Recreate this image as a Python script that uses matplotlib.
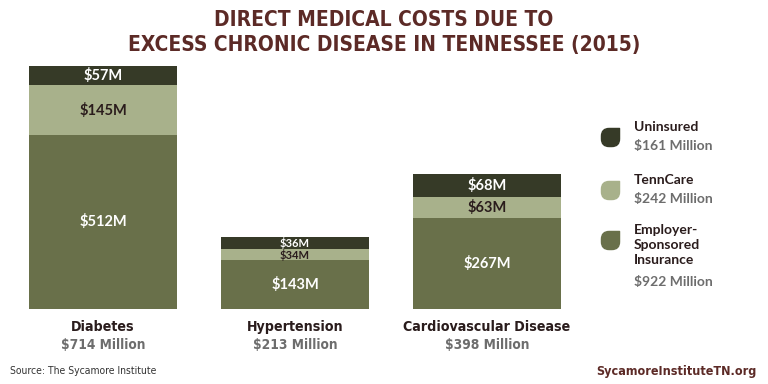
import matplotlib
matplotlib.use("Agg")
import matplotlib.pyplot as plt
from matplotlib.path import Path

# ── Data ─────────────────────────────────────────────────────────────
categories = ["Diabetes", "Hypertension", "Cardiovascular Disease"]
totals = ["$714 Million", "$213 Million", "$398 Million"]
employer = [512, 143, 267]
tenncare = [145, 34, 63]
uninsured = [57, 36, 68]

legend_names = ["Uninsured", "TennCare", "Employer-\nSponsored\nInsurance"]
legend_totals = ["$161 Million", "$242 Million", "$922 Million"]

C_UNINS = "#363a27"
C_TENN = "#a8b18b"
C_EMP = "#69704a"
MAROON = "#5c2a26"
GRAY = "#6d6d6d"
DARK = "#2a1c1c"

plt.rcParams["font.family"] = ["Lato", "DejaVu Sans"]
COND = dict(family="DejaVu Sans", stretch="condensed")

# leaf-shaped legend marker: rounded square, sharp top-right corner
r = 0.85
verts = [(1, 1), (-1 + r, 1), (-1, 1), (-1, 1 - r), (-1, -1 + r), (-1, -1),
         (-1 + r, -1), (1 - r, -1), (1, -1), (1, -1 + r), (1, 1)]
codes = [Path.MOVETO, Path.LINETO, Path.CURVE3, Path.CURVE3, Path.LINETO,
         Path.CURVE3, Path.CURVE3, Path.LINETO, Path.CURVE3, Path.CURVE3,
         Path.CLOSEPOLY]
leaf = Path(verts, codes)

fig = plt.figure(figsize=(7.68, 3.84), dpi=100)
ax = fig.add_axes([7 / 768, 75 / 384, 576 / 768, 243 / 384])
x = range(len(categories))
w = 0.77
px = 714 / 243  # data units per pixel

ax.bar(x, employer, w, color=C_EMP)
ax.bar(x, tenncare, w, bottom=employer, color=C_TENN)
bottom3 = [e + t for e, t in zip(employer, tenncare)]
ax.bar(x, uninsured, w, bottom=bottom3, color=C_UNINS)

for i in x:
    small = uninsured[i] < 45
    fs_small = 8 if small else 10.5
    ax.text(i, employer[i] / 2, f"${employer[i]}M", ha="center", va="center",
            color="white", fontsize=10.5, fontweight="bold")
    ax.text(i, employer[i] + tenncare[i] / 2, f"${tenncare[i]}M", ha="center",
            va="center", color=DARK, fontsize=fs_small, fontweight="bold")
    ax.text(i, bottom3[i] + uninsured[i] / 2, f"${uninsured[i]}M", ha="center",
            va="center", color="white", fontsize=fs_small, fontweight="bold")
    ax.text(i, -18 * px, categories[i], ha="center", va="center", color=DARK,
            fontsize=10.2, fontweight="bold", **COND)
    ax.text(i, -36 * px, totals[i], ha="center", va="center", color=GRAY,
            fontsize=9.8, fontweight="bold", **COND)

ax.set_xlim(-0.5, 2.5)
ax.set_ylim(0, 714)
ax.axis("off")

# title
fig.text(0.5, 1 - 20 / 384, "DIRECT MEDICAL COSTS DUE TO", ha="center", va="center",
         color=MAROON, fontsize=15, fontweight="bold", **COND)
fig.text(0.5, 1 - 45 / 384, "EXCESS CHRONIC DISEASE IN TENNESSEE (2015)", ha="center",
         va="center", color=MAROON, fontsize=15, fontweight="bold", **COND)

# legend
leg_y = [129, 182, 232]
colors = [C_UNINS, C_TENN, C_EMP]
for name, tot, yy, c in zip(legend_names, legend_totals, leg_y, colors):
    nlines = name.count("\n") + 1
    fig.text(634 / 768, 1 - (yy - 8) / 384, name, ha="left", va="top", color=DARK,
             fontsize=10, fontweight="bold", linespacing=1.3)
    ty = yy + 16.7 * nlines
    fig.text(634 / 768, 1 - ty / 384, tot, ha="left", va="center", color=GRAY,
             fontsize=10, fontweight="bold")
    fig.lines.append(plt.Line2D([610 / 768], [1 - (yy + 8) / 384], marker=leaf,
                                markersize=13, color=c, linestyle="none",
                                transform=fig.transFigure))

fig.text(10 / 768, 1 - 371 / 384, "Source: The Sycamore Institute", ha="left",
         va="center", color="#333333", fontsize=7.5, **COND)
fig.text(757 / 768, 1 - 371 / 384, "SycamoreInstituteTN.org", ha="right", va="center",
         color=MAROON, fontsize=9, fontweight="bold", **COND)

fig.savefig("out.png", dpi=100)
